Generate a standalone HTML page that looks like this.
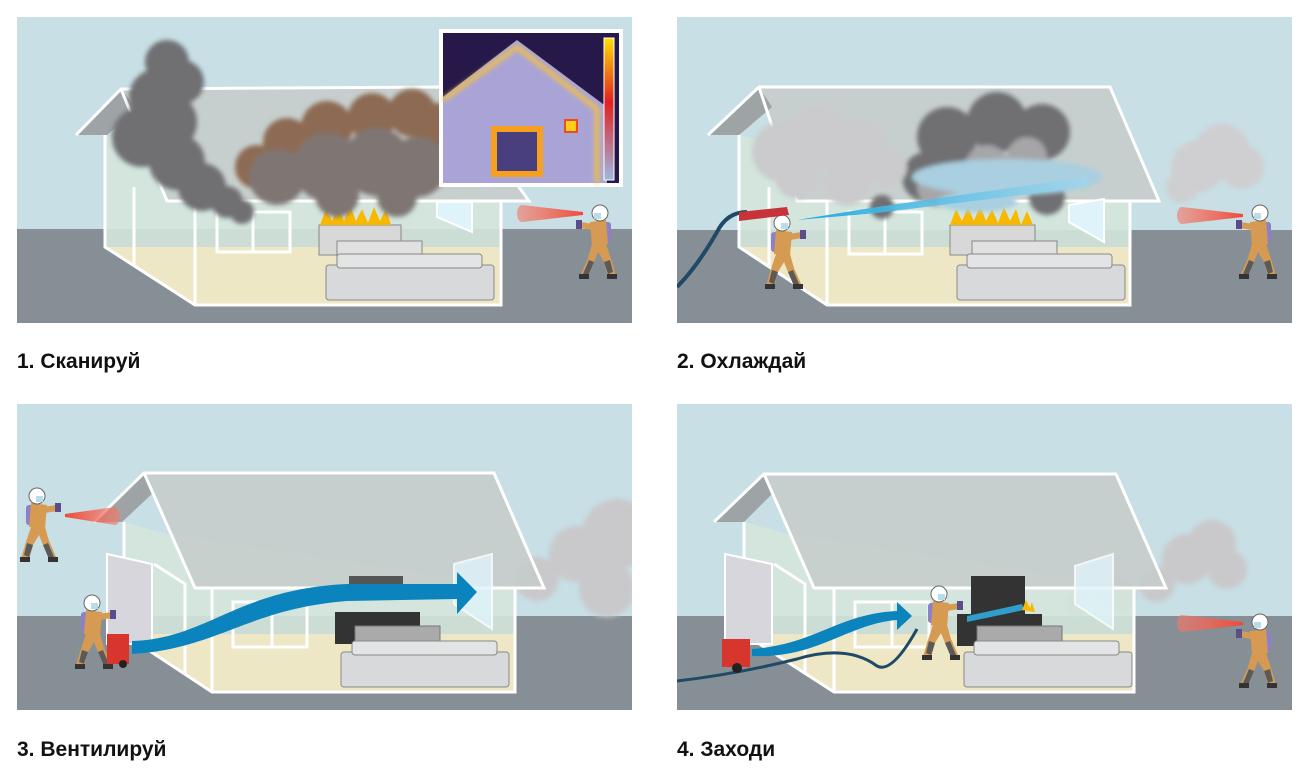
<!DOCTYPE html>
<html><head><meta charset="utf-8"><style>
html,body{margin:0;padding:0;background:#fff;width:1306px;height:780px;overflow:hidden}
.lbl{position:absolute;font-family:"Liberation Sans",sans-serif;font-weight:bold;font-size:21px;color:#111}
svg{position:absolute;left:0;top:0}
</style></head><body>
<svg width="1306" height="780" viewBox="0 0 1306 780">
<defs>
<clipPath id="pc"><rect width="615" height="306"/></clipPath>
<filter id="bl" x="-20%" y="-20%" width="140%" height="140%"><feGaussianBlur stdDeviation="2.5"/></filter>
<linearGradient id="ir" x1="0" x2="1"><stop offset="0" stop-color="#f47a6a" stop-opacity=".6"/><stop offset="1" stop-color="#f04a3a"/></linearGradient>
<linearGradient id="ir2" x1="1" x2="0"><stop offset="0" stop-color="#f47a6a" stop-opacity=".6"/><stop offset="1" stop-color="#f04a3a"/></linearGradient>
<linearGradient id="scale" x1="0" y1="0" x2="0" y2="1"><stop offset="0" stop-color="#ffe100"/><stop offset=".45" stop-color="#e02020"/><stop offset="1" stop-color="#a0b8e0"/></linearGradient>
<linearGradient id="wat" x1="0" x2="1"><stop offset="0" stop-color="#1aa8e0"/><stop offset="1" stop-color="#9fd6ee" stop-opacity=".7"/></linearGradient>
<symbol id="ff" viewBox="0 0 50 80" width="50" height="80">
<rect x="33" y="22" width="8" height="20" rx="3" fill="#8c80c8"/>
<path d="M20 22 L36 20 L38 44 L22 46 Z" fill="#d69a52"/>
<path d="M10 22 L24 24 L22 30 L10 28 Z" fill="#d69a52"/>
<rect x="6" y="20" width="6" height="9" fill="#5a4d8a"/>
<path d="M22 44 L36 44 L42 62 L46 76 L38 77 L34 62 L28 52 L24 62 L18 76 L11 74 L18 58 Z" fill="#d69a52"/>
<path d="M24 62 L18 76 L13 74 L19 60 Z M34 62 L38 74 L43 72 L40 60Z" fill="#5a5a58"/>
<rect x="9" y="74" width="10" height="5" fill="#333"/><rect x="37" y="74" width="10" height="5" fill="#333"/>
<circle cx="30" cy="13" r="8" fill="#fff" stroke="#666" stroke-width="1"/>
<rect x="24" y="13" width="7" height="6" fill="#b8dde8"/>
</symbol>
</defs>

<!-- PANEL 1 -->
<g transform="translate(17,17)" clip-path="url(#pc)">
<rect width="615" height="306" fill="#c7dfe5"/>
<rect y="212" width="615" height="94" fill="#878f96"/>
<polygon points="88,118 88,230 178,288 484,288 484,184 130,130" fill="#d4e5dc" opacity=".9"/>
<polygon points="88,230 178,288 484,288 484,230" fill="#ede7c6"/>
<polygon points="104,72 430,70 512,184 150,184" fill="#c6cdca" opacity=".85"/>
<polygon points="59,118 104,72 120,92 90,118" fill="#9ea3a6"/>
<g fill="none" stroke="#fff" stroke-width="3">
<polyline points="59,118 104,72 430,70 512,184 150,184 104,72"/>
<polyline points="88,118 88,230 178,288 484,288 484,184"/>
<line x1="178" y1="184" x2="178" y2="288"/>
<line x1="117" y1="170" x2="117" y2="248"/>
<rect x="200" y="195" width="73" height="40"/>
<line x1="236" y1="195" x2="236" y2="235"/>
</g>
<polygon points="420,185 455,185 455,215 420,200" fill="#dff4fa" stroke="#fff" stroke-width="2"/>
<rect x="302" y="208" width="82" height="30" fill="#d8d8d8" stroke="#888"/>
<path d="M303 208 l6 -16 l6 12 l6 -14 l6 14 l6 -16 l6 16 l6 -12 l6 14 l6 -16 l6 14 l6 -12 l5 16 z" fill="#f8b800"/>
<rect x="320" y="224" width="85" height="35" fill="#e1e1e1" stroke="#888"/>
<rect x="309" y="248" width="168" height="35" rx="3" fill="#d8d9db" stroke="#888"/>
<rect x="320" y="237" width="145" height="14" rx="3" fill="#e3e4e6" stroke="#888"/>
<g filter="url(#bl)">
<g fill="#8d6a52"><circle cx="270" cy="125" r="24"/><circle cx="310" cy="110" r="26"/><circle cx="355" cy="100" r="24"/><circle cx="395" cy="96" r="24"/><circle cx="420" cy="110" r="24"/><circle cx="240" cy="150" r="22"/></g>
<g fill="#7f7673"><circle cx="260" cy="160" r="28"/><circle cx="310" cy="150" r="34"/><circle cx="360" cy="145" r="34"/><circle cx="400" cy="150" r="30"/><circle cx="320" cy="178" r="22"/><circle cx="380" cy="180" r="20"/></g>
<g fill="#6f6f73"><circle cx="150" cy="45" r="22"/><circle cx="140" cy="80" r="28"/><circle cx="125" cy="120" r="30"/><circle cx="150" cy="105" r="30"/><circle cx="160" cy="145" r="28"/><circle cx="185" cy="170" r="24"/><circle cx="210" cy="185" r="16"/><circle cx="225" cy="195" r="12"/><circle cx="165" cy="65" r="22"/></g>
</g>
<rect x="422" y="12" width="184" height="158" fill="#fff"/>
<rect x="426" y="16" width="176" height="150" fill="#261848"/>
<polygon points="426,80 500,23 590,90 590,166 426,166" fill="#aaa4d6"/>
<polyline points="426,83 500,30 580,92 580,166" fill="none" stroke="#f7c23a" stroke-width="4" filter="url(#bl)"/>
<rect x="477" y="112" width="46" height="45" fill="#4a3f7e" stroke="#f7a020" stroke-width="6"/>
<rect x="548" y="103" width="12" height="12" fill="#ffcc20" stroke="#f04a20" stroke-width="2"/>
<rect x="587" y="21" width="10" height="142" fill="url(#scale)" stroke="#fff"/>
<path d="M505 188 L566 195 L566 198 L505 205 A5 8.5 0 0 1 505 188Z" fill="url(#ir)"/>
<use href="#ff" x="553" y="182" width="50" height="82"/>
</g>

<!-- PANEL 2 -->
<g transform="translate(677,17)" clip-path="url(#pc)">
<rect width="615" height="306" fill="#c7dfe5"/>
<rect y="213" width="615" height="93" fill="#878f96"/>
<polygon points="62,118 62,230 150,288 453,288 453,184 110,130" fill="#d4e5dc" opacity=".9"/>
<polygon points="62,230 150,288 453,288 453,230" fill="#ede7c6"/>
<polygon points="82,70 433,70 482,184 120,184" fill="#c6cdca" opacity=".85"/>
<polygon points="31,118 82,70 95,90 62,118" fill="#9ea3a6"/>
<g fill="none" stroke="#fff" stroke-width="3">
<polyline points="31,118 82,70 433,70 482,184 120,184 82,70"/>
<polyline points="62,118 62,230 150,288 453,288 453,184"/>
<line x1="150" y1="184" x2="150" y2="288"/>
<line x1="92" y1="170" x2="92" y2="248"/>
<rect x="172" y="195" width="73" height="42"/>
<line x1="208" y1="195" x2="208" y2="237"/>
</g>
<polygon points="392,188 427,182 427,225 392,205" fill="#dff4fa" stroke="#fff" stroke-width="2"/>
<rect x="273" y="208" width="85" height="30" fill="#d8d8d8" stroke="#888"/>
<path d="M273 208 l6 -16 l6 12 l6 -14 l6 14 l6 -16 l6 16 l6 -12 l6 14 l6 -16 l6 14 l6 -12 l5 16 l6 -14 l6 14 z" fill="#f8b800"/>
<rect x="295" y="224" width="85" height="35" fill="#e1e1e1" stroke="#888"/>
<rect x="280" y="248" width="168" height="35" rx="3" fill="#d8d9db" stroke="#888"/>
<rect x="290" y="237" width="145" height="14" rx="3" fill="#e3e4e6" stroke="#888"/>
<g filter="url(#bl)">
<g fill="#cfcfd1"><circle cx="520" cy="150" r="26"/><circle cx="545" cy="135" r="28"/><circle cx="565" cy="150" r="22"/><circle cx="505" cy="170" r="16"/></g>
<g fill="#707073"><circle cx="270" cy="120" r="30"/><circle cx="320" cy="105" r="30"/><circle cx="365" cy="115" r="28"/><circle cx="250" cy="160" r="25"/><circle cx="370" cy="180" r="18"/><circle cx="205" cy="190" r="12"/></g>
<g fill="#a6a6a9"><circle cx="260" cy="170" r="20"/><circle cx="310" cy="150" r="22"/><circle cx="350" cy="140" r="20"/></g>
<g fill="#cbcbcd"><circle cx="105" cy="135" r="30"/><circle cx="140" cy="120" r="32"/><circle cx="180" cy="135" r="32"/><circle cx="120" cy="160" r="22"/><circle cx="170" cy="165" r="24"/><circle cx="210" cy="150" r="20"/></g>
<g fill="#a9cfe0"><ellipse cx="330" cy="160" rx="95" ry="18"/><ellipse cx="300" cy="185" rx="40" ry="10"/></g>
</g>
<path d="M120 203 L200 190 L410 160 L410 170 L200 196 Z" fill="url(#wat)"/>
<path d="M505 190 L566 197 L566 200 L505 207 A5 8.5 0 0 1 505 190Z" fill="url(#ir)"/>
<use href="#ff" x="553" y="182" width="50" height="82"/>
<path d="M0 270 Q20 250 40 215 Q50 195 70 195" fill="none" stroke="#1f4a66" stroke-width="4"/>
<g transform="translate(85,252) scale(-1,1)"><use href="#ff" x="0" y="0" width="50" height="82" transform="translate(-50,-60)"/></g>
<path d="M62 195 L110 190 L112 198 L62 204 Z" fill="#c8323a"/>
</g>

<!-- PANEL 3 -->
<g transform="translate(17,404)" clip-path="url(#pc)">
<rect width="615" height="306" fill="#c7dfe5"/>
<rect y="212" width="615" height="94" fill="#878f96"/>
<g filter="url(#bl)" fill="#c9c9cb"><circle cx="600" cy="130" r="35"/><circle cx="560" cy="150" r="28"/><circle cx="590" cy="185" r="28"/><circle cx="520" cy="175" r="22"/></g>
<polygon points="107,118 107,230 195,288 498,288 498,184 150,130" fill="#d4e5dc" opacity=".9"/>
<polygon points="107,230 195,288 498,288 498,230" fill="#ede7c6"/>
<polygon points="127,69 477,69 527,184 178,184" fill="#c6cdca" opacity=".85"/>
<polygon points="77,118 127,69 137,88 105,118" fill="#9ea3a6"/>
<g fill="none" stroke="#fff" stroke-width="3">
<polyline points="77,118 127,69 477,69 527,184 178,184 127,69"/>
<polyline points="107,118 107,230 195,288 498,288 498,184"/>
<line x1="195" y1="184" x2="195" y2="288"/>
<polyline points="137,160 168,180 168,270"/>
<rect x="216" y="198" width="74" height="45"/>
<line x1="255" y1="198" x2="255" y2="243"/>
</g>
<polygon points="90,150 135,160 135,240 90,240" fill="#d6d6dc" stroke="#fff" stroke-width="2"/>
<polygon points="437,160 475,150 475,225 437,200" fill="#dff4fa" stroke="#fff" stroke-width="2" opacity=".8"/>
<rect x="332" y="172" width="54" height="12" fill="#555"/>
<rect x="318" y="208" width="85" height="32" fill="#333"/>
<rect x="338" y="222" width="85" height="35" fill="#aaa" stroke="#777"/>
<rect x="324" y="248" width="168" height="35" rx="3" fill="#d8d9db" stroke="#888"/>
<rect x="335" y="237" width="145" height="14" rx="3" fill="#e3e4e6" stroke="#888"/>
<path d="M115 237 C190 235 220 185 330 180 L440 180 L440 168 L460 188 L440 210 L440 195 L330 197 C230 205 200 245 115 250 Z" fill="#0b84bd"/>
<path d="M98 103 L48 110 L48 113 L98 121 A5 9 0 0 0 98 103Z" fill="url(#ir2)"/>
<use href="#ff" x="-50" y="78" width="50" height="82" transform="scale(-1,1)"/>
<use href="#ff" x="-105" y="185" width="50" height="82" transform="scale(-1,1)"/>
<rect x="90" y="230" width="22" height="30" fill="#d8352c"/><circle cx="106" cy="260" r="4" fill="#222"/>
</g>

<!-- PANEL 4 -->
<g transform="translate(677,404)" clip-path="url(#pc)">
<rect width="615" height="306" fill="#c7dfe5"/>
<rect y="212" width="615" height="94" fill="#878f96"/>
<g filter="url(#bl)" fill="#c9c9cb"><circle cx="510" cy="155" r="25"/><circle cx="535" cy="140" r="24"/><circle cx="550" cy="165" r="20"/><circle cx="480" cy="180" r="18"/><circle cx="440" cy="190" r="18"/><circle cx="400" cy="200" r="12"/></g>
<polygon points="67,118 67,230 157,288 457,288 457,184 110,130" fill="#d4e5dc" opacity=".9"/>
<polygon points="67,230 157,288 457,288 457,230" fill="#ede7c6"/>
<polygon points="87,70 439,70 489,184 137,184" fill="#c6cdca" opacity=".85"/>
<polygon points="37,118 87,70 95,90 67,118" fill="#9ea3a6"/>
<g fill="none" stroke="#fff" stroke-width="3">
<polyline points="37,118 87,70 439,70 489,184 137,184 87,70"/>
<polyline points="67,118 67,230 157,288 457,288 457,184"/>
<line x1="157" y1="184" x2="157" y2="288"/>
<polyline points="97,160 128,180 128,270"/>
<rect x="178" y="198" width="74" height="45"/>
<line x1="215" y1="198" x2="215" y2="243"/>
</g>
<polygon points="48,150 95,160 95,240 48,240" fill="#d6d6dc" stroke="#fff" stroke-width="2"/>
<polygon points="398,162 436,150 436,225 398,200" fill="#dff4fa" stroke="#fff" stroke-width="2" opacity=".8"/>
<rect x="294" y="172" width="54" height="50" fill="#333"/>
<rect x="280" y="210" width="85" height="32" fill="#333"/>
<rect x="300" y="222" width="85" height="35" fill="#aaa" stroke="#777"/>
<rect x="287" y="248" width="168" height="35" rx="3" fill="#d8d9db" stroke="#888"/>
<rect x="297" y="237" width="145" height="14" rx="3" fill="#e3e4e6" stroke="#888"/>
<path d="M75 245 C140 240 160 210 220 207 L220 198 L235 212 L220 226 L220 216 C170 220 140 255 75 252 Z" fill="#0b84bd"/>
<path d="M0 277 Q60 270 120 255 Q170 240 200 262 Q215 270 240 225" fill="none" stroke="#1f4a66" stroke-width="3"/>
<rect x="45" y="235" width="28" height="28" fill="#d8352c"/><circle cx="60" cy="264" r="5" fill="#222"/>
<polygon points="290,212 345,200 347,206 290,218" fill="#30b0e8" opacity=".85"/>
<path d="M345 206 l4 -10 l4 8 l2 -6 l3 10z" fill="#f8b800"/>
<use href="#ff" x="-292" y="176" width="50" height="82" transform="scale(-1,1)"/>
<path d="M505 211 L566 218 L566 221 L505 228 A5 8.5 0 0 1 505 211Z" fill="url(#ir)"/>
<use href="#ff" x="553" y="204" width="50" height="82"/>
</g>
</svg>
<div class="lbl" style="left:17px;top:350px">1. Сканируй</div>
<div class="lbl" style="left:677px;top:350px">2. Охлаждай</div>
<div class="lbl" style="left:17px;top:738px">3. Вентилируй</div>
<div class="lbl" style="left:677px;top:738px">4. Заходи</div>
</body></html>
